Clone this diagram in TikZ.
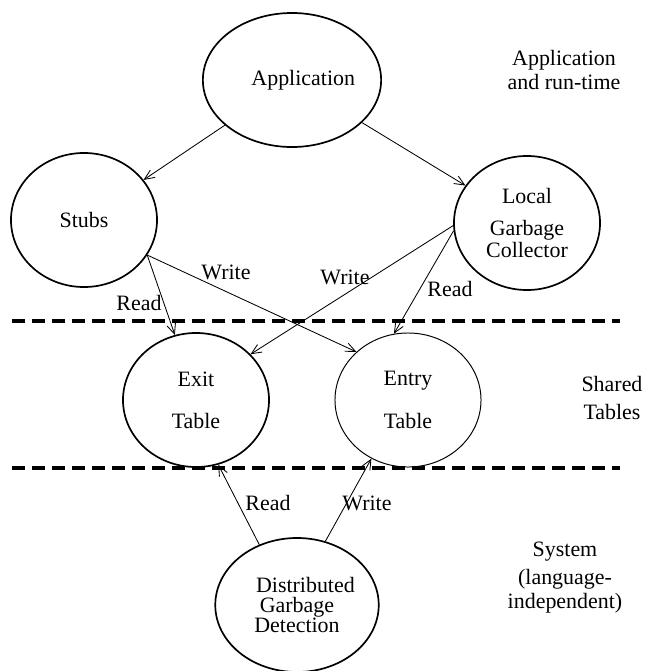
\documentclass[tikz,border=0pt]{standalone}
\usepackage{fontspec}
\setmainfont{Liberation Serif}
\usetikzlibrary{shapes.geometric,arrows.meta}

\begin{document}
\begin{tikzpicture}[x=0.025cm, y=-0.025cm,
  font=\fontsize{15.6}{17}\selectfont,
  layer/.style={draw, ellipse, line width=1.2pt, minimum width=3.65cm,
    minimum height=3.35cm, inner sep=0pt, align=center},
  flow/.style={line width=0.6pt, -{Straight Barb[length=2.5mm,width=2.2mm]}},
  divider/.style={line width=2.8pt, dash pattern=on 0.33cm off 0.17cm}]

\useasboundingbox (0,0) rectangle (647,671);

% Draw Circles

\node[layer] (app) at (292,80) {\hspace{16pt}Application};

\node[layer] (stubs) at (84,220) {Stubs};

\node[layer] (lgc) at (527,223) {Local\\[5.8pt]Garbage\\[-1.4pt]Collector};

\node[layer] (exit) at (196,400) {Exit\\[13pt]Table};

\node[layer, line width=0.7pt] (entry) at (408,400) {Entry\\[13pt]Table};

\node[layer] (dgd) at (297,605) {\hspace{12pt}Distributed\\[-2.8pt]Garbage\\[-2.8pt]Detection};

% Draw Dividers

\draw[divider] (12,321) -- (620,321);

\draw[divider] (12,468) -- (620,468);

% Draw Arrows

\draw[flow] (app) -- (stubs);

\draw[flow] (app) -- (lgc);

\draw[flow] (stubs.-29) -- (exit.108);

\draw[flow] (stubs.-29) -- (entry.137);

\draw[flow] (lgc.182) -- (exit.40);

\draw[flow] (lgc.186) -- (entry.102);

\draw[flow] (dgd.122) -- (exit.-71);

\draw[flow] (dgd.66) -- (entry.-122);

% Draw Arrow Labels

\node (w1) at (226,272) {Write};

\node (w2) at (345,277) {Write};

\node (r1) at (139,303) {Read};

\node (r2) at (450,289) {Read};

\node (r3) at (268,503) {Read};

\node (w3) at (367,503) {Write};

% Draw Layer Labels

\node[align=center] (top) at (564,70) {Application\\and run-time};

\node[align=center] (mid) at (612,398) {Shared\\[3.5pt]Tables};

\node[align=center, text depth=0pt] (bot) at (565,575) {System\\[2.8pt](language-\\independent)};

\end{tikzpicture}
\end{document}
